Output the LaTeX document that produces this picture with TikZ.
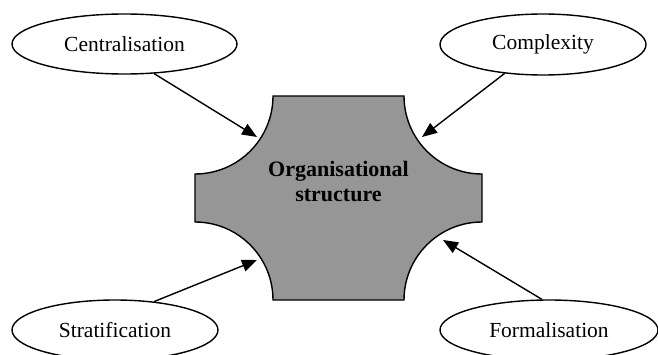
\documentclass[tikz,border=0pt]{standalone}
\usepackage{fontspec}
\setmainfont{Liberation Serif}
\usetikzlibrary{arrows.meta,shapes.geometric}
\definecolor{orgfill}{RGB}{150,150,150}

\begin{document}
\begin{tikzpicture}[x=1pt, y=1pt,
  dim/.style={ellipse, draw=black, line width=1.4pt, inner sep=0, fill=white,
              font=\fontsize{21.5}{25}\selectfont},
  core/.style={font=\fontsize{22}{25}\selectfont\bfseries, align=center},
  feed/.style={line width=1.4pt, -{Triangle[length=15pt, width=12pt]}},
]
\useasboundingbox (0,0) rectangle (658,354);
% central block: a rectangle whose corners are cut by quarter circles
\draw[line width=1.4pt, fill=orgfill]
  (273,258) -- (404,258) arc[start angle=180, end angle=270, radius=78]
  -- (482,132) arc[start angle=90, end angle=180, radius=78]
  -- (273,54) arc[start angle=0, end angle=90, radius=78]
  -- (195,180) arc[start angle=270, end angle=360, radius=78] -- cycle;
\node[core] (org) at (338.5,172) {Organisational\\structure};
% arrow tips at the hollow corners
\coordinate (tipcen) at (257,217);
\coordinate (tipcom) at (422,217);
\coordinate (tipstr) at (257,94);
\coordinate (tipfor) at (443,114);
% the four dimensions
\node[dim, minimum width=225pt, minimum height=60pt] (cen) at (124.5,310) {Centralisation};
\node[dim, minimum width=206pt, minimum height=61pt] (com) at (543,309.5) {Complexity};
\node[dim, minimum width=206pt, minimum height=60pt] (str) at (115,24) {Stratification};
\node[dim, minimum width=218pt, minimum height=60pt] (for) at (549,24) {Formalisation};
% influences
\draw[feed] (cen.-45) -- (tipcen);
\draw[feed] (com.-143) -- (tipcom);
\draw[feed] (str.36) -- (tipstr);
\draw[feed] (for.103) -- (tipfor);
\end{tikzpicture}
\end{document}
